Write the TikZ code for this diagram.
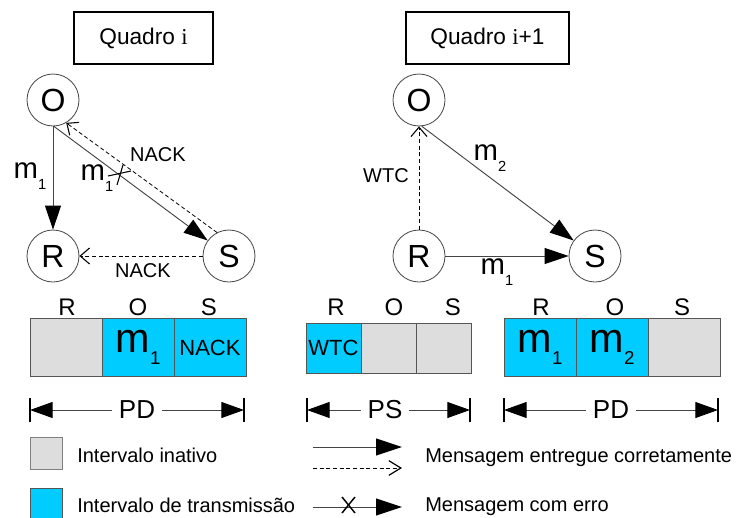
\documentclass[tikz,border=0pt]{standalone}
\usepackage{fontspec}
\setmainfont{Liberation Sans}
\newfontfamily\monoi{Liberation Serif}
\usetikzlibrary{arrows.meta}
\newcommand{\fsz}[1]{\fontsize{#1}{#1}\selectfont}
\newcommand{\msub}[4]{{\fsz{#1}m\raisebox{-#4}{\fsz{#2}#3}}}
\definecolor{cyanb}{HTML}{00CCFF}
\definecolor{grayb}{HTML}{DDDDDD}
\definecolor{linec}{HTML}{444444}
\definecolor{cellb}{HTML}{555555}
\begin{document}
\begin{tikzpicture}[x=0.75pt,y=-0.75pt,
  circ/.style={circle, draw=linec, line width=0.6pt, minimum size=39pt, inner sep=0pt, font=\fsz{24}},
  quadro/.style={draw=black, line width=1.1pt, minimum height=39pt, inner sep=0pt, font=\fsz{17}},
  solidarrow/.style={draw=linec, line width=0.7pt, -{Triangle[length=18pt,width=12pt,color=black]}},
  dasharrow/.style={draw=black, line width=0.6pt, dash pattern=on 3pt off 2pt, -{Straight Barb[length=7pt,width=12pt,line width=0.8pt]}},
  lbl/.style={inner sep=0pt, font=\fsz{15}},
  toplbl/.style={inner sep=0pt, font=\fsz{18}},
  cell/.style={draw=cellb, line width=0.6pt, inner sep=0pt},
  idle/.style={cell, fill=grayb},
  tx/.style={cell, fill=cyanb},
  dimlbl/.style={inner sep=5pt, font=\fsz{19.5}},
  dimtip/.style={draw=linec, line width=0.7pt, -{Triangle[length=17pt,width=12pt,color=black]}},
  bar/.style={draw=black, line width=1pt},
  legtxt/.style={inner sep=0pt, anchor=west, font=\fsz{15}},
  legsq/.style={draw=gray, line width=0.6pt, minimum size=24pt, inner sep=0pt}
]
\useasboundingbox (0,0) rectangle (736,518);

% ---------- Quadro i ----------
\node[quadro, minimum width=104.25pt] (q1) at (143.5,38) {Quadro {\monoi i}};
\node[circ] (O1) at (53,100) {O};
\node[circ] (R1) at (53,256) {R};
\node[circ] (S1) at (229,256) {S};
\draw[solidarrow] (O1) -- (R1);
\draw[solidarrow] (O1.-88) -- (S1.144);
\draw[dasharrow] (S1.117) -- (O1.-60);
\draw[dasharrow] (S1) -- (R1);
\draw[draw=black, line width=0.8pt] (117,185) -- (123,165);
\draw[draw=black, line width=0.8pt] (108,176) -- (131,171);
\node[inner sep=0pt] (m1a) at (30,176) {\msub{22}{11}{1}{0.4em}};
\node[inner sep=0pt] (m1b) at (97,178) {\msub{22}{11}{1}{0.4em}};
\node[lbl] (nack1) at (158,155) {NACK};
\node[lbl] (nack2) at (143,271) {NACK};

% ---------- Quadro i+1 ----------
\node[quadro, minimum width=122.25pt] (q2) at (487.5,38) {Quadro {\monoi i}+1};
\node[circ] (O2) at (419,100) {O};
\node[circ] (R2) at (419,256) {R};
\node[circ] (S2) at (595,256) {S};
\draw[dasharrow] (R2) -- (O2);
\draw[solidarrow] (O2.-84) -- (S2.144);
\draw[solidarrow] (R2) -- (S2);
\node[lbl] (wtc) at (386,176) {WTC};
\node[inner sep=0pt] (m2) at (490,158) {\msub{22}{11}{2}{0.4em}};
\node[inner sep=0pt] (m1c) at (497,272) {\msub{22}{11}{1}{0.4em}};

% ---------- block 1 ----------
\node[idle, minimum width=54pt, minimum height=44pt] (b1r) at (66,347.5) {};
\node[tx, minimum width=54pt, minimum height=44pt] (b1o) at (138,347.5) {\msub{31}{14}{1}{0.3em}};
\node[tx, minimum width=54pt, minimum height=44pt, font=\fsz{16.5}] (b1s) at (210,347.5) {NACK};
\node[toplbl] (l1r) at (67,307) {R};
\node[toplbl] (l1o) at (138,307) {O};
\node[toplbl] (l1s) at (209,307) {S};

% ---------- block 2 ----------
\node[tx, minimum width=41.25pt, minimum height=37.5pt, font=\fsz{16.5}] (b2r) at (333.5,348) {WTC};
\node[idle, minimum width=41.25pt, minimum height=37.5pt] (b2o) at (388.5,348) {};
\node[idle, minimum width=41.25pt, minimum height=37.5pt] (b2s) at (443.5,348) {};
\node[toplbl] (l2r) at (336,307) {R};
\node[toplbl] (l2o) at (394,307) {O};
\node[toplbl] (l2s) at (453,307) {S};

% ---------- block 3 ----------
\node[tx, minimum width=54pt, minimum height=44pt] (b3r) at (540,347.5) {\msub{31}{14}{1}{0.3em}};
\node[tx, minimum width=54pt, minimum height=44pt] (b3o) at (612,347.5) {\msub{31}{14}{2}{0.3em}};
\node[idle, minimum width=54pt, minimum height=44pt] (b3s) at (684,347.5) {};
\node[toplbl] (l3r) at (541,307) {R};
\node[toplbl] (l3o) at (615,307) {O};
\node[toplbl] (l3s) at (682,307) {S};

% ---------- dimension rows ----------
\node[dimlbl] (pd1) at (137,410) {PD};
\coordinate (d1l) at (30,410);
\coordinate (d1r) at (244,410);
\draw[dimtip] (pd1.west) -- (d1l);
\draw[dimtip] (pd1.east) -- (d1r);
\draw[bar] ([yshift=-9]d1l) -- ([yshift=9]d1l);
\draw[bar] ([yshift=-9]d1r) -- ([yshift=9]d1r);

\node[dimlbl] (ps) at (385,410) {PS};
\coordinate (d2l) at (307,410);
\coordinate (d2r) at (470,410);
\draw[dimtip] (ps.west) -- (d2l);
\draw[dimtip] (ps.east) -- (d2r);
\draw[bar] ([yshift=-9]d2l) -- ([yshift=9]d2l);
\draw[bar] ([yshift=-9]d2r) -- ([yshift=9]d2r);

\node[dimlbl] (pd3) at (611,410) {PD};
\coordinate (d3l) at (504,410);
\coordinate (d3r) at (718,410);
\draw[dimtip] (pd3.west) -- (d3l);
\draw[dimtip] (pd3.east) -- (d3r);
\draw[bar] ([yshift=-9]d3l) -- ([yshift=9]d3l);
\draw[bar] ([yshift=-9]d3r) -- ([yshift=9]d3r);

% ---------- legend ----------
\node[legsq, fill=grayb] (sqi) at (46,453.5) {};
\node[legsq, fill=cyanb, draw=cellb] (sqt) at (46,504) {};
\node[legtxt] (ti) at (77,455) {Intervalo inativo};
\node[legtxt] (tt) at (77,505) {Intervalo de transmissão};

\coordinate (a1s) at (313,447);
\coordinate (a1e) at (402,447);
\coordinate (a2s) at (313,468);
\coordinate (a2e) at (402,468);
\coordinate (a3s) at (313,507);
\coordinate (a3e) at (402,507);
\draw[draw=linec, line width=0.7pt, -{Triangle[length=19.5pt,width=12.75pt,color=black]}] (a1s) -- (a1e);
\draw[draw=black, line width=0.6pt, dash pattern=on 3pt off 2pt, -{Straight Barb[length=9pt,width=11pt,line width=0.9pt]}] (a2s) -- (a2e);
\draw[draw=linec, line width=0.7pt, -{Triangle[length=19.5pt,width=12.75pt,color=black]}] (a3s) -- (a3e);
\draw[draw=black, line width=1.1pt] (342,497) -- (355,513);
\draw[draw=black, line width=1.1pt] (355,497) -- (342,513);
\node[legtxt] (tm1) at (425,458) {Mensagem entregue corretamente};
\node[legtxt] (tm2) at (425,507) {Mensagem com erro};
\end{tikzpicture}
\end{document}
